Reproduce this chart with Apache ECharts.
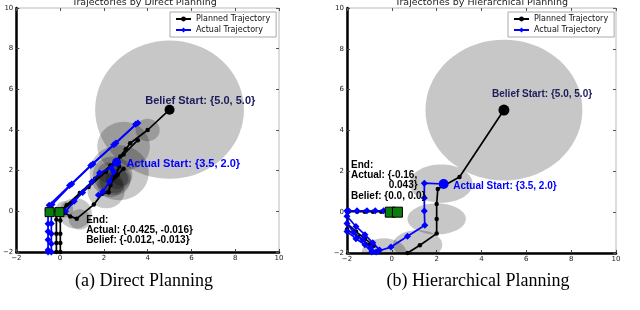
<!DOCTYPE html>
<html><head><meta charset="utf-8">
<script src="https://cdn.jsdelivr.net/npm/echarts@6/dist/echarts.min.js"></script>
<style>html,body{margin:0;padding:0;background:#fff}#c{width:640px;height:310px}</style>
</head><body><div id="c"></div>
<script>
// ---------- data ----------
const axisTicks = [-2, 0, 2, 4, 6, 8, 10];
const titles = ['Trajectories by Direct Planning', 'Trajectories by Hierarchical Planning'];
const captions = ['(a) Direct Planning', '(b) Hierarchical Planning'];
const legendNames = ['Planned Trajectory', 'Actual Trajectory'];

// (a) Direct planning: belief uncertainty ellipses [cx, cy, rx, ry]
const directBeliefs = [
  [5.0, 5.0, 3.4, 3.4], [4.0, 4.0, 0.55, 0.55], [2.9, 3.2, 1.2, 1.2], [2.7, 1.9, 1.35, 1.35],
  [2.4, 1.8, 0.9, 0.9], [2.5, 1.5, 0.7, 0.7], [2.6, 1.6, 0.5, 0.5], [2.3, 1.3, 0.6, 0.6],
  [2.8, 1.7, 0.45, 0.45], [2.1, 1.0, 0.85, 0.85], [2.2, 1.9, 0.5, 0.5], [0.7, -0.1, 0.75, 0.75],
  [0.9, -0.4, 0.5, 0.5], [0.2, 0.1, 0.4, 0.4]
];
const directPlanned = [
  [[5, 5], [4.0, 4.0], [3.2, 3.35], [3.0, 3.05], [2.75, 2.7], [2.3, 2.25], [1.6, 1.6], [0.9, 0.9], [0.3, 0.3], [0.0, 0.0]],
  [[3.55, 3.5], [2.9, 2.8], [2.1, 1.95], [1.3, 1.2], [0.5, 0.4], [0.05, 0.05]],
  [[0.23, -0.08], [0.46, -0.25], [0.76, -0.36], [1.54, 0.33], [1.91, 0.85], [2.22, 0.93], [2.33, 1.48], [2.63, 1.8], [2.9, 2.1]],
  [[2.7, 2.2], [2.5, 1.7], [2.3, 1.3], [2.2, 0.95]],
  [[-0.17, 0.0], [-0.17, -0.4], [-0.17, -1.1], [-0.17, -1.56], [-0.17, -2.0]],
  [[0.01, 0.0], [0.01, -0.45], [0.01, -1.1], [0.01, -1.56], [0.01, -2.0]]
];
const directActual = [
  [[3.55, 4.35], [2.55, 3.36], [1.5, 2.33], [0.53, 1.34], [-0.37, 0.33], [-0.4, 0.05]],
  [[3.45, 4.28], [2.45, 3.28], [1.4, 2.26], [0.43, 1.27], [-0.5, 0.3], [-0.55, 0.05]],
  [[2.58, 2.41], [2.33, 2.13], [1.8, 1.89], [1.45, 1.45], [1.03, 0.93], [0.64, 0.49], [0.25, 0.0]],
  [[2.45, 1.95], [2.26, 1.47], [1.96, 0.98], [1.75, 0.8]],
  [[-0.55, 0.05], [-0.55, -0.61], [-0.55, -0.99], [-0.55, -1.4], [-0.55, -1.9], [-0.55, -2.0]],
  [[-0.4, 0.05], [-0.4, -0.6], [-0.4, -1.1], [-0.4, -1.6], [-0.4, -2.0]]
];
const directBeliefStart = [[5.0, 5.0]];
const directActualStart = [[2.58, 2.41]];
const directEnds = [[-0.48, -0.04], [-0.03, -0.04]];
const directNotes = ['Belief Start: {5.0, 5.0}', 'Actual Start: {3.5, 2.0}', 'End:', 'Actual: {-0.425, -0.016}', 'Belief: {-0.012, -0.013}'];

// (b) Hierarchical planning
const hierBeliefs = [
  [5.0, 5.0, 3.5, 3.45], [2.2, 1.4, 1.4, 0.94], [2.0, -0.33, 1.3, 0.76],
  [1.15, -1.6, 1.1, 0.72], [-0.35, -2.0, 1.0, 0.72]
];
const hierPlanned = [
  [[5, 5], [3.02, 1.72], [2.05, 1.13], [2.0, 0.4], [2.0, -0.33], [2.0, -1.05], [1.25, -1.62], [0.7, -2.0]],
  [[-2.0, 0.02], [-1.93, 0.02], [-1.55, 0.02], [-1.21, 0.02], [-0.84, 0.02], [-0.47, 0.02], [0.0, 0.02]],
  [[-2.0, -0.55], [-1.6, -0.95], [-1.2, -1.3], [-0.8, -1.65]],
  [[-2.0, -0.85], [-1.5, -1.2], [-1.0, -1.6]]
];
const hierActual = [
  [[2.31, 1.38], [1.45, 1.42], [1.45, 0.69], [1.45, 0.06], [1.47, -0.64], [0.7, -1.18], [-0.04, -1.71], [-0.6, -1.9]],
  [[-2.0, 0.07], [-1.93, 0.07], [-1.55, 0.07], [-1.11, 0.07], [-0.74, 0.07], [-0.37, 0.07], [0.0, 0.07]],
  [[-2.0, -0.2], [-1.6, -0.7], [-1.2, -1.1], [-0.85, -1.5], [-0.55, -1.85]],
  [[-2.0, -0.55], [-1.7, -1.0], [-1.3, -1.35], [-0.95, -1.75], [-0.7, -1.95]],
  [[-2.0, -0.95], [-1.6, -1.3], [-1.2, -1.6], [-0.9, -1.95]]
];
const hierBeliefStart = [[5.0, 5.0]];
const hierActualStart = [[2.31, 1.38]];
const hierEnds = [[-0.07, 0.0], [0.25, 0.0]];
const hierNotes = ['Belief Start: {5.0, 5.0}', 'Actual Start: {3.5, 2.0}', 'End:', 'Actual: {-0.16,', '0.043}', 'Belief: {0.0, 0.0}'];

// ---------- layout (annotation anchors in data units, styles) ----------
const NAVY = '#1c1c5c', BLUE = '#0000ff', GREEN = '#0a7d0a';
const directNoteLayout = [
  {at: [3.89, 5.44], color: NAVY, size: 11, align: 'left'},
  {at: [3.03, 2.34], color: BLUE, size: 11, align: 'left'},
  {at: [1.19, -0.46], color: '#000', size: 10, align: 'left'},
  {at: [1.19, -0.95], color: '#000', size: 10, align: 'left'},
  {at: [1.19, -1.44], color: '#000', size: 10, align: 'left'}
];
const hierNoteLayout = [
  {at: [4.47, 5.80], color: NAVY, size: 10, align: 'left'},
  {at: [2.74, 1.25], color: BLUE, size: 10, align: 'left'},
  {at: [-1.82, 2.28], color: '#000', size: 10, align: 'left'},
  {at: [-1.82, 1.79], color: '#000', size: 10, align: 'left'},
  {at: [1.15, 1.30], color: '#000', size: 10, align: 'right'},
  {at: [-1.82, 0.76], color: '#000', size: 10, align: 'left'}
];

const grids = [
  {left: 12, top: 8, width: 267, height: 244},
  {left: 347, top: 8, width: 269, height: 245}
];

// ---------- builders ----------
const amin = axisTicks[0], amax = axisTicks[axisTicks.length - 1], aint = axisTicks[1] - axisTicks[0];
const fmt = v => String(v).replace('-', '\u2212');

function mainX(i) {
  return {type: 'value', gridIndex: i, min: amin, max: amax, interval: aint, position: 'bottom',
    axisLine: {onZero: false, lineStyle: {color: '#000', width: 2.5}},
    axisTick: {inside: true, length: 3, lineStyle: {color: '#444'}},
    axisLabel: {fontSize: 7, color: '#222', fontFamily: 'DejaVu Sans', margin: 3, formatter: fmt},
    splitLine: {show: false}};
}
function mainY(i) {
  return {type: 'value', gridIndex: i, min: amin, max: amax, interval: aint, position: 'left',
    axisLine: {onZero: false, lineStyle: {color: '#000', width: 2.5}},
    axisTick: {inside: true, length: 3, lineStyle: {color: '#444'}},
    axisLabel: {fontSize: 7, color: '#222', fontFamily: 'DejaVu Sans', margin: 3, formatter: fmt},
    splitLine: {show: false}};
}
function sideAxis(i, pos) {
  return {type: 'value', gridIndex: i, min: amin, max: amax, interval: aint, position: pos,
    axisLine: {show: false, onZero: false}, axisTick: {inside: true, length: 3, lineStyle: {color: '#555'}},
    axisLabel: {show: false}, splitLine: {show: false}};
}

function ellipses(data, ai) {
  return {type: 'custom', xAxisIndex: ai, yAxisIndex: ai, clip: true, z: 1, silent: true,
    data: data,
    renderItem: function (params, api) {
      const cx = api.value(0), cy = api.value(1), rx = api.value(2), ry = api.value(3);
      const pts = [];
      for (let k = 0; k < 72; k++) {
        const t = k / 72 * Math.PI * 2;
        pts.push(api.coord([cx + rx * Math.cos(t), cy + ry * Math.sin(t)]));
      }
      return {type: 'polygon', shape: {points: pts}, style: {fill: 'rgba(0,0,0,0.22)', stroke: 'none'}};
    }};
}
function planned(d, ai) {
  return {type: 'line', name: legendNames[0], xAxisIndex: ai, yAxisIndex: ai, data: d, z: 3,
    symbol: 'circle', symbolSize: 4.5, showAllSymbol: true,
    lineStyle: {color: '#000', width: 1.7}, itemStyle: {color: '#000'}, animation: false};
}
function actual(d, ai) {
  return {type: 'line', name: legendNames[1], xAxisIndex: ai, yAxisIndex: ai, data: d, z: 4,
    symbol: 'diamond', symbolSize: 7, showAllSymbol: true,
    lineStyle: {color: BLUE, width: 1.7}, itemStyle: {color: BLUE}, animation: false};
}
function dot(d, ai, color, size, z) {
  return {type: 'scatter', xAxisIndex: ai, yAxisIndex: ai, data: d, symbol: 'circle', symbolSize: size,
    itemStyle: {color: color, opacity: 1}, z: z, animation: false};
}
function ends(d, ai, size) {
  return {type: 'scatter', xAxisIndex: ai, yAxisIndex: ai, data: d, symbol: 'rect', symbolSize: size,
    itemStyle: {color: GREEN, borderColor: '#000', borderWidth: 1, opacity: 1}, z: 6, animation: false};
}
function notes(texts, layout, ai) {
  return {type: 'custom', xAxisIndex: ai, yAxisIndex: ai, z: 10, silent: true, clip: false,
    data: texts.map((t, k) => [layout[k].at[0], layout[k].at[1], k]),
    renderItem: function (params, api) {
      const k = api.value(2), L = layout[k];
      const p = api.coord([api.value(0), api.value(1)]);
      return {type: 'text', x: p[0], y: p[1],
        style: {text: texts[k], fill: L.color, font: 'bold ' + L.size + 'px "Liberation Sans", Arial, sans-serif',
          align: L.align, verticalAlign: 'middle'}};
    }};
}

const series = [];
series.push(ellipses(directBeliefs, 0));
directPlanned.forEach(d => series.push(planned(d, 0)));
directActual.forEach(d => series.push(actual(d, 0)));
series.push(dot(directBeliefStart, 0, '#000', 10, 7));
series.push(dot(directActualStart, 0, BLUE, 9, 7));
series.push(ends(directEnds, 0, [9, 9]));
series.push(notes(directNotes, directNoteLayout, 0));

series.push(ellipses(hierBeliefs, 1));
hierPlanned.forEach(d => series.push(planned(d, 1)));
hierActual.forEach(d => series.push(actual(d, 1)));
series.push(dot(hierBeliefStart, 1, '#000', 11, 7));
series.push(dot(hierActualStart, 1, BLUE, 10, 7));
series.push(ends(hierEnds, 1, [10, 10]));
series.push(notes(hierNotes, hierNoteLayout, 1));

function legendAt(left) {
  return {left: left, top: 12, orient: 'vertical', data: legendNames, itemWidth: 15, itemHeight: 6,
    itemGap: 3, padding: [3, 6, 3, 5], backgroundColor: '#fff', borderColor: '#aaa', borderWidth: 1,
    textStyle: {fontSize: 8, fontFamily: 'DejaVu Sans', color: '#111'}, selectedMode: false, z: 20};
}

const option = {
  animation: false,
  backgroundColor: '#fff',
  grid: grids.map(g => Object.assign({show: true, borderColor: '#bbb', borderWidth: 1, backgroundColor: 'transparent'}, g)),
  xAxis: [mainX(0), mainX(1), sideAxis(0, 'top'), sideAxis(1, 'top')],
  yAxis: [mainY(0), mainY(1), sideAxis(0, 'right'), sideAxis(1, 'right')],
  legend: [legendAt(170), legendAt(508)],
  graphic: [
    {type: 'text', left: 145 - 73, top: -2, z: 30, style: {text: titles[0], fill: '#222', font: '9.5px "DejaVu Sans"'}},
    {type: 'text', left: 483 - 88, top: -2, z: 30, style: {text: titles[1], fill: '#222', font: '9.5px "DejaVu Sans"'}},
    {type: 'text', x: 144, y: 281, style: {text: captions[0], fill: '#000', font: '18px "Liberation Serif", serif', align: 'center', verticalAlign: 'middle'}},
    {type: 'text', x: 478, y: 281, style: {text: captions[1], fill: '#000', font: '18px "Liberation Serif", serif', align: 'center', verticalAlign: 'middle'}}
  ],
  series: series
};
const chart = echarts.init(document.getElementById('c'), null, {renderer: 'canvas'});
chart.setOption(option);
</script>
</body></html>
